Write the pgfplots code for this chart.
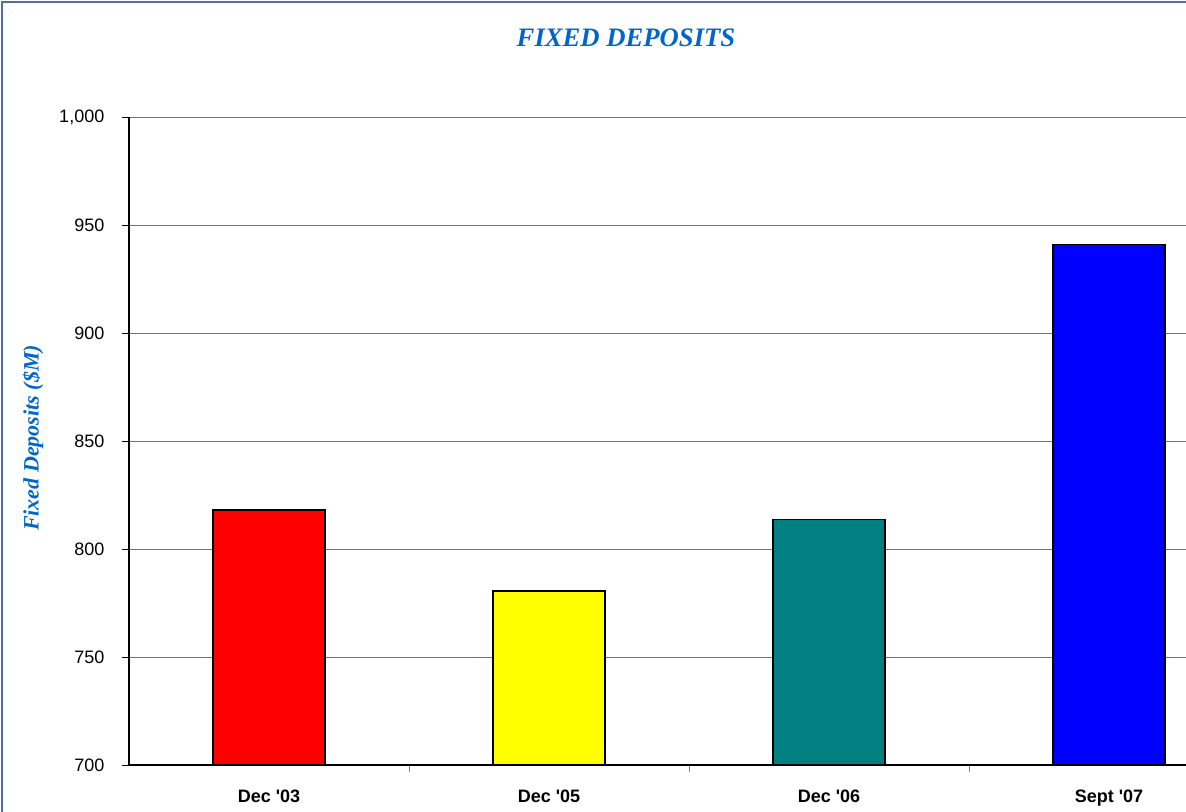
\documentclass[border=0pt]{standalone}
\usepackage{fontspec}
\setmainfont{Liberation Sans}
\newfontfamily\serifbi{Liberation Serif}
\usepackage{pgfplots}
\pgfplotsset{compat=1.18}
\definecolor{titleblue}{RGB}{0,102,204}
\definecolor{framecol}{RGB}{79,111,160}
\definecolor{barteal}{RGB}{0,128,128}
\definecolor{baryellow}{RGB}{255,255,0}
\begin{document}
\begin{tikzpicture}[x=0.75pt,y=0.75pt]
\useasboundingbox (0,0) rectangle (1186,812);
\draw[framecol, line width=1.5pt] (2,0) -- (2,810) -- (1186,810);
\node[font={\serifbi\fontsize{20}{24}\selectfont\bfseries\itshape}, text=titleblue] at (626,774) {FIXED DEPOSITS};
\node[font={\serifbi\fontsize{16.5}{20}\selectfont\bfseries\itshape}, text=titleblue, rotate=90] at (33,374) {Fixed Deposits (\$M)};
\begin{axis}[
  at={(96.75pt,35.25pt)}, anchor=south west,
  scale only axis, width=792.75pt, height=486pt,
  xmin=-0.5, xmax=3.275, ymin=700, ymax=1000,
  axis x line*=bottom, axis y line*=left,
  axis line style={black, line width=1pt},
  ytick={700,750,...,1000},
  ymajorgrids, grid style={black!55, line width=0.7pt},
  xtick={0,1,2,3},
  xticklabels={Dec \textquotesingle 03,Dec \textquotesingle 05,Dec \textquotesingle 06,Sept \textquotesingle 07},
  major x tick style={draw=none},
  minor xtick={0.5,1.5,2.5},
  minor x tick style={gray, line width=0.6pt},
  minor tick length=5pt,
  tick align=outside,
  major y tick style={black, line width=0.6pt},
  major tick length=5pt,
  x tick label style={font=\fontsize{13.5}{16}\selectfont\bfseries, yshift=-10pt},
  y tick label style={font=\fontsize{13.5}{16}\selectfont, xshift=-10pt},
  /pgf/number format/assume math mode=true,
  /pgf/number format/1000 sep={,},
  ybar, bar width=84pt, bar shift=0pt,
  clip=false,
]
\addplot[fill=red, draw=black, line width=1pt] coordinates {(0,818)};
\addplot[fill=baryellow, draw=black, line width=1pt] coordinates {(1,780.5)};
\addplot[fill=barteal, draw=black, line width=1pt] coordinates {(2,813.5)};
\addplot[fill=blue, draw=black, line width=1pt] coordinates {(3,941)};
\end{axis}
\end{tikzpicture}
\end{document}
